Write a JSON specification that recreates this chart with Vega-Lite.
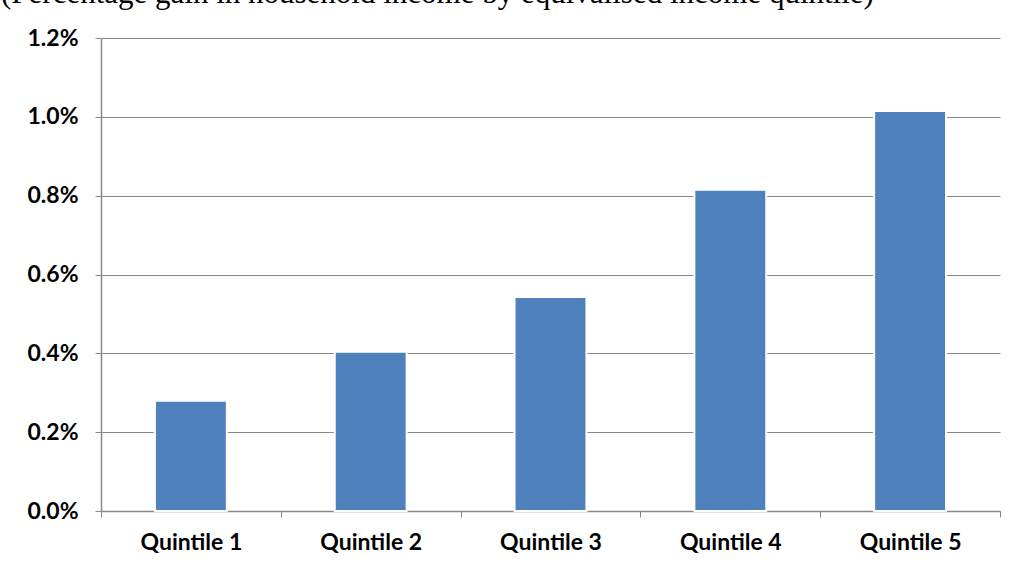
{
  "$schema": "https://vega.github.io/schema/vega-lite/v6.json",
  "autosize": "none",
  "width": 899,
  "height": 473,
  "padding": {"left": 101, "top": 38, "right": 17, "bottom": 57},
  "background": "white",
  "title": {
    "text": "(Percentage gain in household income by equivalised income quintile)",
    "font": "Liberation Serif",
    "fontSize": 31,
    "fontWeight": "normal",
    "color": "black",
    "anchor": "start",
    "frame": "group",
    "dx": -100,
    "baseline": "alphabetic",
    "offset": -7
  },
  "data": {
    "values": [
      {"quintile": "Quintile 1", "gain": 0.0028},
      {"quintile": "Quintile 2", "gain": 0.00404},
      {"quintile": "Quintile 3", "gain": 0.00543},
      {"quintile": "Quintile 4", "gain": 0.00815},
      {"quintile": "Quintile 5", "gain": 0.01015}
    ]
  },
  "mark": {"type": "bar", "color": "#4F81BD", "stroke": "white", "strokeWidth": 2, "width": {"band": 0.4}},
  "encoding": {
    "x": {
      "field": "quintile",
      "type": "nominal",
      "sort": null,
      "scale": {"paddingInner": 0, "paddingOuter": 0},
      "axis": {
        "title": null,
        "labelAngle": 0,
        "labelFont": "Lato",
        "labelFontSize": 23,
        "labelFontWeight": "bold",
        "labelColor": "black",
        "labelPadding": 14,
        "domainColor": "#888888",
        "domainWidth": 1.5,
        "tickColor": "#888888",
        "tickSize": 6,
        "tickBand": "extent",
        "grid": false
      }
    },
    "y": {
      "field": "gain",
      "type": "quantitative",
      "scale": {"domain": [0, 0.012]},
      "axis": {
        "title": null,
        "format": ".1%",
        "values": [0, 0.002, 0.004, 0.006, 0.008, 0.01, 0.012],
        "labelFont": "Lato",
        "labelFontSize": 23,
        "labelFontWeight": "bold",
        "labelColor": "black",
        "labelPadding": 17,
        "domainColor": "#888888",
        "domainWidth": 1.5,
        "tickColor": "#888888",
        "tickSize": 6,
        "grid": true,
        "gridColor": "#888888",
        "gridWidth": 1.2
      }
    }
  },
  "config": {"view": {"stroke": null}}
}
